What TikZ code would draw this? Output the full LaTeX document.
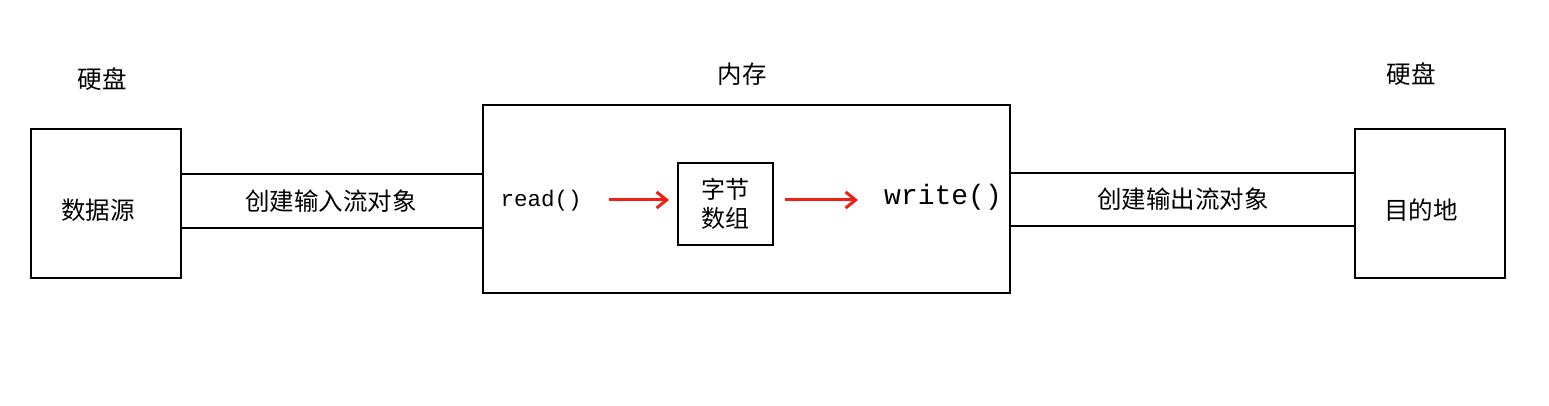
\documentclass[tikz,border=0pt]{standalone}
\usepackage{fontspec}
\setmainfont{Noto Sans CJK SC}
\newfontfamily\codefont{Liberation Mono}
\usetikzlibrary{arrows.meta}
\definecolor{arrred}{RGB}{240,30,20}
\begin{document}
\begin{tikzpicture}[x=1pt,y=-1pt,
  box/.style={draw=black,line width=2pt,minimum width=150pt,minimum height=149pt,inner sep=0pt},
  lbl/.style={font=\fontsize{24.5}{28}\selectfont,inner sep=0pt},
  tube/.style={line width=2pt},
  redarrow/.style={draw=arrred,line width=3pt,-{Straight Barb[length=10pt,width=16pt,line width=3pt]}}]
\useasboundingbox (0,0) rectangle (1549,406);
% boxes
\node[box] (src) at (106,203.5) {};
\node[box] (dst) at (1430,203.5) {};
\node[lbl] (srct) at (98,210) {数据源};
\node[lbl] (dstt) at (1421,210) {目的地};
\draw[line width=2pt] (483,105) rectangle (1010,293);
\coordinate (memL) at (483,199);
\coordinate (memR) at (1010,199);
\node[draw=black,line width=2pt,minimum width=95pt,minimum height=82pt,inner sep=0pt,align=center,font=\fontsize{24}{30}\selectfont] (buf) at (725.5,204) {字节\\[-1pt]数组};
% titles
\node[lbl] (t1) at (102,79) {硬盘};
\node[lbl] (t2) at (742,74) {内存};
\node[lbl] (t3) at (1411,74) {硬盘};
% tubes
\draw[tube] (src.east |- 0,174) -- (memL |- 0,174);
\draw[tube] (src.east |- 0,228) -- (memL |- 0,228);
\draw[tube] (memR |- 0,173) -- (dst.west |- 0,173);
\draw[tube] (memR |- 0,226) -- (dst.west |- 0,226);
\node[lbl] (inlbl) at (331,201) {创建输入流对象};
\node[lbl] (outlbl) at (1183,199) {创建输出流对象};
% code
\node[inner sep=0pt,font=\codefont\fontsize{22.5}{24}\selectfont] (rd) at (541,201) {read()};
\node[inner sep=0pt,font=\codefont\fontsize{28}{30}\selectfont] (wr) at (943,197) {write()};
\coordinate (a1s) at (609,200);
\coordinate (a2e) at (858,200);
\draw[redarrow] (a1s) -- ([xshift=-8pt]buf.west |- a1s);
\draw[redarrow] (buf.east |- a2e) ++(11,0) -- (a2e);
\end{tikzpicture}
\end{document}
